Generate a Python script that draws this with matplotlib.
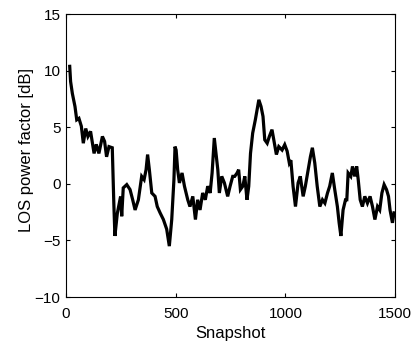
import matplotlib
matplotlib.use("Agg")
import matplotlib.pyplot as plt

snapshot = [17, 21, 29, 41, 49, 59, 70, 79, 90, 100, 112, 128, 138, 150, 166, 176,
            185, 196, 211, 218, 223, 234, 249, 254, 261, 277, 292, 304, 315, 330,
            345, 356, 365, 372, 380, 391, 406, 416, 429, 444, 459, 471, 482, 492,
            497, 502, 509, 517, 529, 540, 555, 565, 578, 590, 600, 611, 623, 635,
            646, 657, 666, 676, 684, 692, 699, 710, 722, 737, 748, 760, 769, 780,
            787, 795, 806, 815, 825, 833, 841, 851, 863, 871, 879, 889, 898, 906,
            917, 927, 939, 950, 959, 970, 985, 997, 1008, 1018, 1025, 1035, 1046,
            1058, 1068, 1081, 1091, 1104, 1114, 1123, 1134, 1145, 1157, 1169, 1180,
            1192, 1202, 1214, 1225, 1237, 1245, 1253, 1263, 1274, 1280, 1286, 1298,
            1306, 1316, 1325, 1332, 1341, 1351, 1362, 1374, 1386, 1397, 1408, 1420,
            1430, 1440, 1450, 1461, 1470, 1477, 1488, 1495]
los_db = [10.4, 9.06, 8.0, 6.85, 5.67, 5.8, 5.1, 3.6, 4.9, 4.2, 4.65, 2.7, 3.5, 2.7,
          4.2, 3.76, 2.4, 3.3, 3.2, -1.7, -4.6, -2.6, -1.1, -2.86, -0.35, -0.06,
          -0.5, -1.4, -2.3, -1.4, 0.67, 0.38, 1.26, 2.6, 1.26, -0.8, -1.1, -2.0,
          -2.56, -3.15, -4.0, -5.5, -3.15, 0.38, 3.3, 3.0, 1.26, 0.09, 0.97, -0.2,
          -1.4, -2.0, -1.1, -3.15, -1.4, -2.3, -0.8, -1.4, -0.2, -0.8, 0.97, 4.06,
          2.7, 1.26, -0.8, 0.67, 0.09, -1.1, -0.2, 0.67, 0.67, 0.97, 1.26, -0.5,
          -0.2, 0.67, -1.4, -0.2, 2.7, 4.5, 5.67, 6.56, 7.44, 6.85, 5.97, 3.9, 3.6,
          4.2, 4.8, 3.6, 2.6, 3.3, 3.0, 3.47, 2.9, 1.85, 2.1, -0.2, -2.0, 0.09,
          0.67, -1.1, -0.2, 1.26, 2.4, 3.2, 1.85, -0.2, -2.0, -1.4, -1.7, -0.8,
          -0.2, 0.97, -0.5, -2.0, -3.44, -4.6, -2.3, -1.4, -1.4, 0.97, 0.67, 1.55,
          0.67, 1.55, 0.38, -1.4, -2.0, -1.1, -1.7, -1.1, -2.0, -3.15, -2.0, -2.3,
          -0.8, -0.06, -0.5, -1.1, -2.3, -3.44, -2.56]

xticks = [0, 500, 1000, 1500]
yticks = [-10, -5, 0, 5, 10, 15]

plt.rcParams["font.family"] = ["Liberation Sans", "DejaVu Sans"]

fig = plt.figure(figsize=(4.15, 3.41), dpi=100)
ax = fig.add_axes([0.159, 0.129, 0.793, 0.829])
ax.plot(snapshot, los_db, color="black", lw=2.3, solid_joinstyle="miter")

ax.set_xlim(0, 1500)
ax.set_ylim(-10, 15)
ax.set_xticks(xticks)
ax.set_yticks(yticks)
ax.tick_params(direction="in", top=True, right=True, length=3, width=0.8,
               labelsize=11)
ax.tick_params(axis="x", pad=7)
ax.tick_params(axis="y", pad=4)
for s in ax.spines.values():
    s.set_linewidth(0.8)
ax.set_xlabel("Snapshot", fontsize=12)
ax.set_ylabel("LOS power factor [dB]", fontsize=12)
ax.xaxis.set_label_coords(0.5, -0.103)
ax.yaxis.set_label_coords(-0.097, 0.52)

fig.savefig("out.png", dpi=100)
